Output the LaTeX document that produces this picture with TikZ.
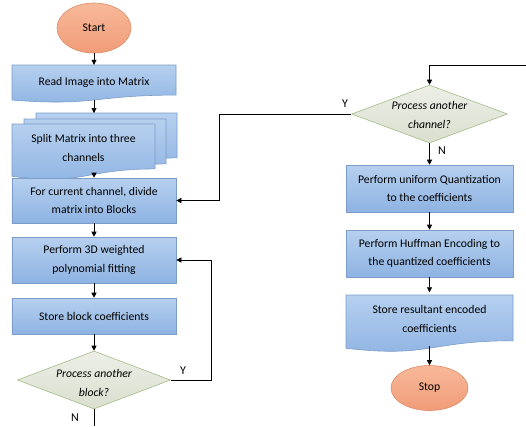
\documentclass[tikz,border=0pt]{standalone}
\usepackage{fontspec}
\setmainfont{Carlito}
\usetikzlibrary{arrows.meta,shapes.geometric}
\definecolor{boxtop}{HTML}{B6D0EF}
\definecolor{boxbot}{HTML}{8EB3E2}
\definecolor{boxline}{HTML}{7C9DC9}
\definecolor{elltop}{HTML}{F8B999}
\definecolor{ellbot}{HTML}{F09C78}
\definecolor{ellline}{HTML}{DE8C68}
\definecolor{diatop}{HTML}{EDEFE7}
\definecolor{diabot}{HTML}{DADFCF}
\definecolor{dialine}{HTML}{A3BD86}
\newcommand\docpath[4]{%
  \path[docfill] (#1,#2) -- ({#1+#3},#2) -- ({#1+#3},{#2+0.802*#4})
    .. controls ({#1+0.5*#3},{#2+0.802*#4}) and ({#1+0.5*#3},{#2+1.107*#4}) ..
    (#1,{#2+0.934*#4}) -- cycle;}
\begin{document}
\begin{tikzpicture}[x=1bp,y=-1bp,
  txt/.style={font=\fontsize{11.7bp}{18.5bp}\selectfont, align=center},
  docfill/.style={draw=boxline, line width=0.6bp, top color=boxtop, bottom color=boxbot},
  procbox/.style={txt, rectangle, draw=boxline, line width=0.6bp, top color=boxtop, bottom color=boxbot, inner sep=0pt},
  docnode/.style={txt, rectangle, inner sep=0pt},
  term/.style={txt, ellipse, draw=ellline, line width=0.6bp, top color=elltop, bottom color=ellbot, inner sep=0pt},
  decide/.style={diamond, draw=dialine, line width=0.6bp, top color=diatop, bottom color=diabot, inner sep=0pt},
  dtext/.style={txt, font=\fontsize{11.7bp}{18.5bp}\selectfont\itshape},
  lbl/.style={font=\fontsize{12bp}{14bp}\selectfont, inner sep=0pt},
  arr/.style={-{Triangle[length=5bp,width=5bp]}, line width=0.6bp, black},
  ln/.style={line width=0.6bp, black}]
\useasboundingbox (0,0) rectangle (526,426);
\fill[white] (0,0) rectangle (526,426);

% left column
\node[term, minimum width=74bp, minimum height=50bp] (start) at (94,28) {Start};
\docpath{12}{65}{164}{37.5}
\node[docnode, minimum width=164bp, minimum height=35bp] (read) at (94,82.5) {Read Image into Matrix};
\docpath{36}{113}{141}{56}
\docpath{24}{119}{142}{56}
\docpath{12}{124}{143}{56}
\coordinate (splitin) at (94,113);
\node[docnode, minimum width=143bp, minimum height=52bp] (split) at (83.5,148) {Split Matrix into three\\channels};
\node[procbox, minimum width=164bp, minimum height=45bp] (forbox) at (94,200.5) {For current channel, divide\\matrix into Blocks};
\node[procbox, minimum width=164bp, minimum height=46bp] (fit) at (94,260) {Perform 3D weighted\\polynomial fitting};
\node[procbox, minimum width=164bp, minimum height=36bp] (store) at (94,316) {Store block coefficients};
\node[decide, minimum width=153bp, minimum height=58bp] (d1) at (94,380) {};
\node[dtext] (d1t) at (94,383) {Process another\\block?};
\coordinate (nend) at (94,426);

% right column
\coordinate (topin) at (526,65);
\node[decide, minimum width=156bp, minimum height=58bp] (d2) at (429.5,114) {};
\node[dtext] (d2t) at (429.5,115) {Process another\\channel?};
\node[procbox, minimum width=167bp, minimum height=47bp] (quant) at (429.5,188.5) {Perform uniform Quantization\\to the coefficients};
\node[procbox, minimum width=167bp, minimum height=47bp] (huff) at (429.5,253.5) {Perform Huffman Encoding to\\the quantized coefficients};
\docpath{346}{295}{167}{57}
\node[docnode, minimum width=167bp, minimum height=53bp] (res) at (429.5,319) {Store resultant encoded\\coefficients};
\node[term, minimum width=77bp, minimum height=45bp] (stop) at (429.5,388) {Stop};

% connectors
\draw[arr] (start) -- (read.north);
\draw[arr] (read.south) -- (splitin);
\draw[arr] (split.south -| forbox.north) -- (forbox.north);
\draw[arr] (forbox) -- (fit);
\draw[arr] (fit) -- (store);
\draw[arr] (store) -- (d1);
\draw[arr] (d1.east) -- ++(40,0) |- (fit.east);
\node[lbl] (y1) at (183,371) {Y};
\draw[ln] (d1.south) -- (nend);
\node[lbl] (n1) at (75,418) {N};

\draw[arr] (topin) -| (d2.north);
\draw[arr] (d2.west) -- ++(-131.5,0) |- (forbox.east);
\node[lbl] (y2) at (345,104) {Y};
\draw[arr] (d2) -- (quant);
\node[lbl] (n2) at (442,151) {N};
\draw[arr] (quant) -- (huff);
\draw[arr] (huff) -- (res.north);
\draw[arr] (res.south) -- (stop);
\end{tikzpicture}
\end{document}
